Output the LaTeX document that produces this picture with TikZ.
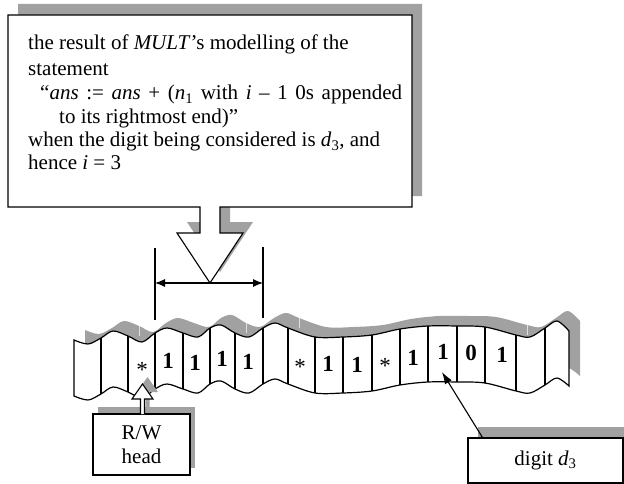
\documentclass[tikz,border=0pt]{standalone}
\usepackage{fontspec}
\setmainfont{Liberation Serif}
\usetikzlibrary{arrows.meta,shadows}
\definecolor{shadowgray}{gray}{0.63}

% outline of the paper tape (top edge, right end, bottom edge, left end)
\newcommand{\tapeoutline}{%
  plot[smooth,tension=0.55] coordinates {(74,340) (88,344) (101,338) (113,331) (128,336)
    (142,342) (155,333) (167,328) (183,333) (198,337) (210,328) (221,325) (235,333)
    (249,337) (263,328) (275,323) (288,328) (315,337) (343,337) (372,335) (400,329)
    (428,326) (457,326) (485,327) (516,335) (530,337) (545,328) (557,321) (569,331)}
  -- plot[smooth,tension=0.55] coordinates {(569,386) (557,378) (545,385) (530,393)
    (516,391) (485,383) (457,382) (428,382) (400,385) (372,391) (343,393) (315,393)
    (288,384) (275,379) (263,384) (249,393) (235,389) (221,381) (210,384) (198,393)
    (183,389) (167,384) (155,389) (142,398) (128,392) (113,387) (101,394) (88,400)
    (74,396)} -- cycle}

% callout box with its downward pointer
\newcommand{\calloutoutline}{%
  (8,15) -- (412,15) -- (412,207) -- (220,207) -- (220,233) -- (243,233) -- (210,283)
  -- (177,233) -- (200,233) -- (200,207) -- (8,207) -- cycle}

% hollow arrow of the read/write head
\newcommand{\headarrow}{%
  (140.5,414) -- (140.5,399) -- (132,399) -- (142.5,384) -- (153,399) -- (144.5,399)
  -- (144.5,414)}

\tikzset{dimtip/.tip={Latex[length=10pt,width=8pt]}}

\begin{document}
\begin{tikzpicture}[x=1pt,y=-1pt,
  txt/.style={font=\fontsize{21}{24}\selectfont, inner sep=0pt},
  line/.style={anchor=base west},
  outline/.style={draw=black, line width=1.1pt, line join=miter},
  tapeline/.style={draw=black, line width=1.2pt},
  cell/.style={font=\fontsize{23}{24}\selectfont, inner sep=0pt, anchor=base},
  shade/.style={fill=shadowgray, draw=none},
  box/.style={txt, outline, fill=white, align=center}]

\fill[white] (0,0) rectangle (624,484);
\useasboundingbox (0,0) rectangle (624,484);

% --- callout with its text
\path[shade, shift={(10,-11)}] \calloutoutline;
\path[outline, fill=white] \calloutoutline;

\node[txt, line] (t1) at (28,50) {the result of \textit{MULT}’s modelling of the};
\node[txt, line] (t2) at (28,75.5) {statement};
\node[txt, line] (t3) at (40,100) {\makebox[362pt][s]{“\textit{ans} := \textit{ans} + (\textit{n}\textsubscript{1} with \textit{i} – 1 0s appended}};
\node[txt, line] (t4) at (59,124) {to its rightmost end)”};
\node[txt, line] (t5) at (28,147) {when the digit being considered is \textit{d}\textsubscript{3}, and};
\node[txt, line] (t6) at (28,170) {hence \textit{i} = 3};

% --- width marker under the pointer
\coordinate (dlt) at (155,248);
\coordinate (dlb) at (155,320);
\coordinate (drt) at (263,247);
\coordinate (drb) at (263,318);
\coordinate (dl) at (155,283);
\coordinate (dr) at (263,283);
\draw[line width=1.1pt] (dlt) -- (dlb);
\draw[line width=1.1pt] (drt) -- (drb);
\draw[line width=1.1pt, dimtip-dimtip] (dl) -- (dr);

% --- tape: shadow, body, cell walls
\path[shade, shift={(11,-10)}] \tapeoutline;
\foreach \x/\a in {128/336, 235/333, 288/328, 516/335}
  \draw[black!12, line width=0.8pt] (\x+11,\a-10) -- (\x+11,\a);
\path[tapeline, fill=white] \tapeoutline;
\foreach \x/\a/\b in {101/338/394, 128/336/392, 155/333/389, 183/333/389, 210/328/384,
    235/333/389, 263/328/384, 288/328/384, 315/337/393, 343/337/393, 372/335/391,
    400/329/385, 428/326/382, 457/326/382, 485/327/383, 516/335/391, 545/328/385}
  \draw[tapeline] (\x,\a) -- (\x,\b);

% --- tape contents
\foreach \i/\x/\y/\s in {1/142/377/*, 2/168/368/\textbf{1}, 3/195/370/\textbf{1},
    4/222/366/\textbf{1}, 5/248/369/\textbf{1}, 6/300/374/*, 7/328/371/\textbf{1},
    8/357/372/\textbf{1}, 9/385/373/*, 10/413/365/\textbf{1}, 11/443/359/\textbf{1},
    12/471/360/\textbf{0}, 13/502/362/\textbf{1}}
  \node[cell] (c\i) at (\x,\y) {\s};

% --- read/write head
\node[box, minimum width=97pt, minimum height=61pt,
      drop shadow={shadow xshift=5pt, shadow yshift=7pt, fill=shadowgray, opacity=1}]
      (rw) at (141.5,444.5) {R/W\\[-0.5pt]head};
\path[shade, shift={(5,-7)}] \headarrow -- cycle;
\path[fill=white] \headarrow -- cycle;
\draw[line width=1.1pt, line join=miter] \headarrow;

% --- label for digit d3
\node[box, minimum width=155pt, minimum height=45pt,
      drop shadow={shadow xshift=10pt, shadow yshift=11pt, fill=shadowgray, opacity=1}]
      (dig) at (545.5,460.5) {digit \textit{d}\textsubscript{3}};
\coordinate (dtip) at (442,372);
\draw[line width=1.1pt, -{Latex[length=12pt,width=8pt]}] ([xshift=15pt]dig.north west) -- (dtip);

\end{tikzpicture}
\end{document}
